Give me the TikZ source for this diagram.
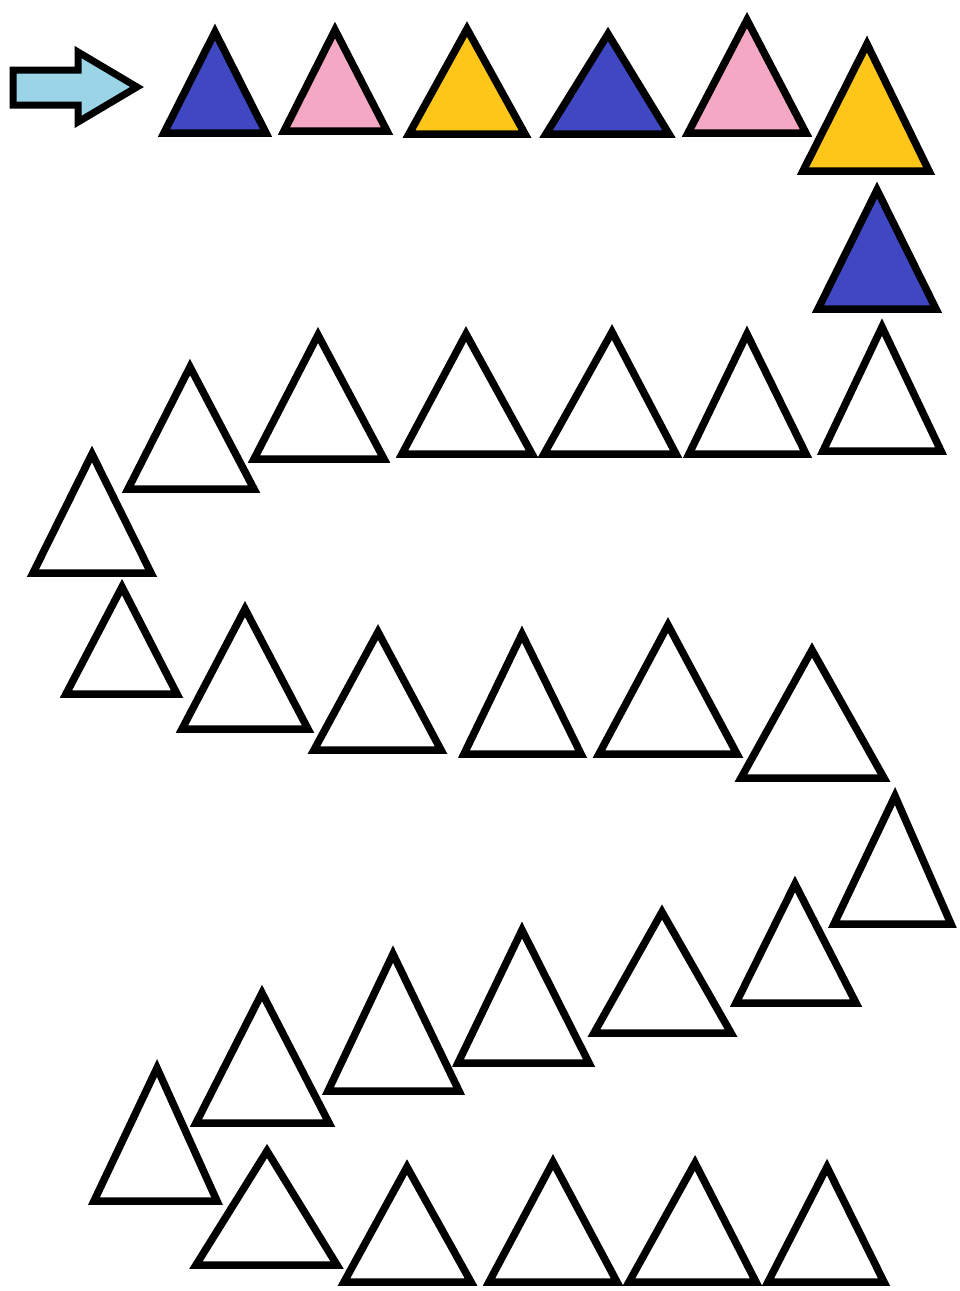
\documentclass[tikz,border=0pt]{standalone}
\definecolor{triblue}{HTML}{3F48C2}
\definecolor{tripink}{HTML}{F4A8C4}
\definecolor{triyellow}{HTML}{FFC61A}
\definecolor{arrowblue}{HTML}{9AD4E6}
\begin{document}
\begin{tikzpicture}[x=1pt,y=-1pt,
  tribox/.style={draw=black,line width=7.5pt,line join=miter},
  arrowbox/.style={draw=black,line width=7pt,line join=miter,fill=arrowblue}]
\useasboundingbox (0,0) rectangle (960,1291);
\fill[white] (0,0) rectangle (960,1291);
% entry arrow
\draw[arrowbox] (13,70) -- (78,70) -- (78,52) -- (137,87) -- (78,122) -- (78,105) -- (13,105) -- cycle;
% triangles: left x / right x / base y / apex x / apex y / fill
\foreach \lx/\rx/\by/\ax/\ay/\col [count=\i] in {
  158/272/137/215/25/triblue,
  278/393/135/335/23/tripink,
  403/531/138/467/22/triyellow,
  540/675/138/608/27/triblue,
  682/812/137/747/13/tripink,
  797/935/175/867/37/triyellow,
  812/942/313/877/183/triblue,
  817/947/455/882/320/white,
  683/812/458/747/327/white,
  538/682/458/612/325/white,
  396/538/458/466/327/white,
  248/390/463/318/328/white,
  122/260/493/190/360/white,
  27/157/577/92/447/white,
  60/183/698/122/580/white,
  176/314/733/245/602/white,
  308/447/754/378/625/white,
  458/587/758/522/627/white,
  593/743/758/668/618/white,
  735/890/782/812/643/white,
  828/957/928/895/789/white,
  730/862/1007/795/877/white,
  588/737/1037/662/905/white,
  452/595/1067/522/923/white,
  322/465/1095/393/947/white,
  190/335/1127/262/986/white,
  88/223/1205/157/1061/white,
  190/343/1269/267/1144/white,
  338/477/1286/407/1160/white,
  483/623/1286/553/1155/white,
  623/762/1286/695/1156/white,
  762/890/1286/827/1160/white}
{
  \coordinate (t\i-l) at (\lx+6,\by-4);
  \coordinate (t\i-r) at (\rx-6,\by-4);
  \coordinate (t\i-a) at (\ax,\ay+7);
  \draw[tribox,fill=\col] (t\i-l) -- (t\i-r) -- (t\i-a) -- cycle;
}
\end{tikzpicture}
\end{document}
